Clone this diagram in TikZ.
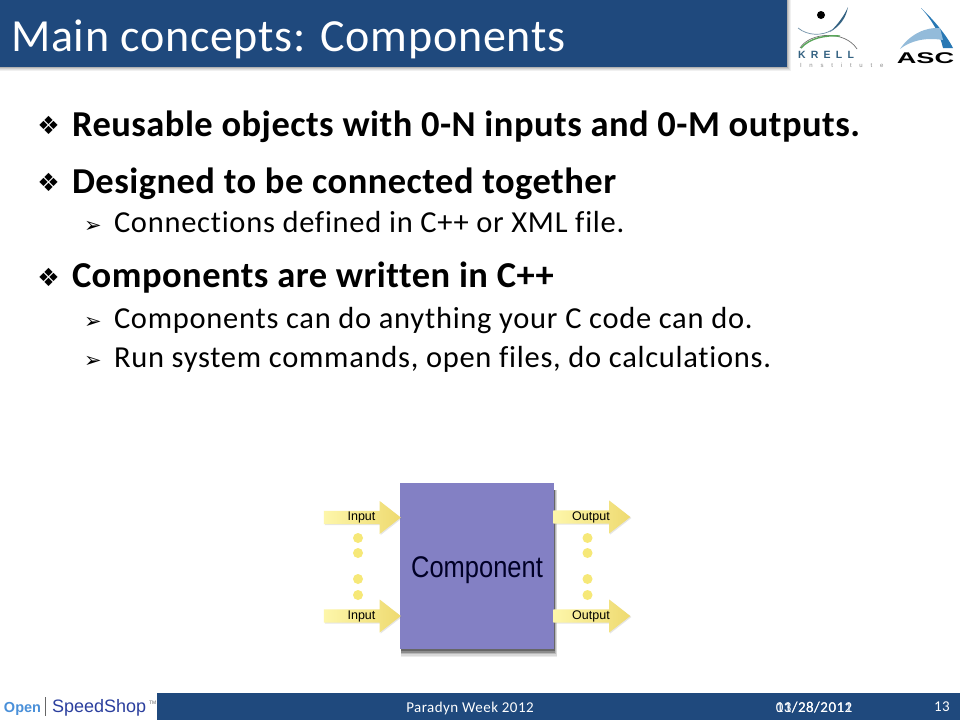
\documentclass[tikz,border=0pt]{standalone}
\usepackage{fontspec}
\usepackage{tikz}
\usetikzlibrary{positioning,shapes.arrows,shadows}
\setmainfont{Carlito}
\newfontfamily\titleFont[LetterSpace=1.6,Ligatures=NoCommon]{Carlito}
\newfontfamily\bigFont[LetterSpace=1.3,Ligatures=NoCommon]{Carlito}
\newfontfamily\smallFont[LetterSpace=2.4,Ligatures=NoCommon]{Carlito}
\newfontfamily\footFont[LetterSpace=3,Ligatures=NoCommon]{Carlito}
\newfontfamily\bulletFont{DejaVu Sans}
\newfontfamily\diagramFont{Liberation Sans}
\newfontfamily\krellFont[LetterSpace=50]{Liberation Sans}
\newfontfamily\instituteFont[LetterSpace=130]{Liberation Sans}
\definecolor{barColor}{RGB}{31,73,125}
\definecolor{boxColor}{RGB}{131,128,196}
\definecolor{arrowLight}{RGB}{253,246,170}
\definecolor{arrowDark}{RGB}{238,218,112}
\definecolor{dotColor}{RGB}{246,232,120}
\definecolor{krellColor}{RGB}{52,98,130}
\definecolor{ascColor}{RGB}{40,120,180}
\definecolor{openColor}{RGB}{74,144,217}
\definecolor{speedColor}{RGB}{43,63,158}
\tikzstyle{slide} = [x = 1pt, y = -1pt, inner sep = 0pt, outer sep = 0pt]
\tikzstyle{titleText} = [anchor=base west, text=white, font=\fontsize{46}{46}\titleFont]
\tikzstyle{bigText} = [anchor=base west, font=\fontsize{36.5}{36.5}\bigFont\bfseries]
\tikzstyle{smallText} = [anchor=base west, font=\fontsize{30.5}{30.5}\smallFont]
\tikzstyle{bigBullet} = [anchor=base, font=\fontsize{25}{25}\bulletFont]
\tikzstyle{smallBullet} = [anchor=base, font=\fontsize{21}{21}\bulletFont]
\tikzstyle{footText} = [anchor=base, text=white, font=\fontsize{15}{15}\footFont]
\tikzstyle{inArrow} = [single arrow, minimum height=77pt, minimum width=33pt, single arrow head extend=8.5pt, single arrow head indent=0pt, single arrow tip angle=76, left color=arrowLight, right color=arrowDark, drop shadow={opacity=.2, shadow xshift=1pt, shadow yshift=-1pt}, execute at begin node=\hspace*{7pt}, font=\fontsize{12.5}{12.5}\diagramFont]
\tikzstyle{dotStyle} = [circle, fill=dotColor, minimum size=10pt]
\newcommand{\bigLine}[4]{
  \node [bigBullet] (#1Bullet) at (48.5, #2) {❖};
  \node [bigText] (#1) at (72, #3) {#4};
}
\newcommand{\smallLine}[3]{
  \node [smallBullet] (#1Bullet) at (93, #2) {➢};
  \node [smallText] (#1) at (114, #2) {#3};
}
\begin{document}
\begin{tikzpicture}[slide]
    \useasboundingbox (0,0) rectangle (960,720);
    \fill [white] (0,0) rectangle (960,720);
    \foreach \grow/\shade in {4/6,3/12,2/20,1/30} {
      \fill [black!\shade] (0,0) rectangle (787 + \grow,67 + \grow);
    }
    \fill [barColor] (0,0) rectangle (787,67);
    \node [titleText] (title) at (11, 51) {Main concepts: Components};
    \bigLine{reusable}{134}{136}{Reusable objects with 0-N inputs and 0-M outputs.}
    \bigLine{designed}{191}{193}{Designed to be connected together}
    \smallLine{connections}{232}{Connections defined in C++ or XML file.}
    \bigLine{written}{286}{287}{Components are written in C++}
    \smallLine{anything}{328}{Components can do anything your C code can do.}
    \smallLine{commands}{367}{Run system commands, open files, do calculations.}
    \foreach \grow/\shade in {8/8,6.5/15,5/28,3.5/45,2/60} {
      \fill [black!\shade] (401,490) rectangle (554 + \grow*.4,649 + \grow);
    }
    \node [fill=boxColor, minimum width=154pt, minimum height=166pt, font=\fontsize{26}{26}\diagramFont, text=black!85!blue] (component) at (477, 566) {\smash{\raisebox{-11pt}{\scalebox{.98}[1.15]{Component}}}};
    \node [inArrow] (inputTop) at (358, 517.5) {Input};
    \node [inArrow] (inputBottom) at (358, 616) {Input};
    \node [inArrow] (outputTop) at (587.5, 517) {Output};
    \node [inArrow] (outputBottom) at (587.5, 616) {Output};
    \foreach \row in {538,553,579,595} {
      \node [dotStyle] (inDot\row) at (358, \row) {};
      \node [dotStyle] (outDot\row) at (587.5, \row) {};
    }
    \fill [black] (821,15) circle (4);
    \fill [krellColor] (848,7) .. controls (846,18) and (840,26) .. (830,32) .. controls (838,24) and (844,16) .. (848,7);
    \draw [krellColor!70, line width=.7] (798,28) .. controls (808,36) and (822,36) .. (832,30);
    \draw [black!55, line width=.7] (800,48) .. controls (810,32) and (845,30) .. (857,49);
    \draw [green!30!gray, line width=1.4] (801,48) .. controls (810,38) and (825,35) .. (840,36);
    \node [anchor=base west, text=krellColor, font=\fontsize{10.5}{10.5}\krellFont\bfseries] (krell) at (798, 58) {KRELL};
    \node [anchor=base west, text=black!45, font=\fontsize{6}{6}\instituteFont] (institute) at (800, 67) {Institute};
    \fill [ascColor] (921,8) .. controls (934,20) and (947,36) .. (953,48) -- (943,48) .. controls (940,34) and (932,20) .. (921,8);
    \fill [ascColor!50] (900,49) .. controls (910,34) and (926,27) .. (940,28) -- (943,40) .. controls (925,37) and (910,41) .. (900,49);
    \node [anchor=base, font=\fontsize{15.5}{15.5}\diagramFont\bfseries, xscale=1.75] (asc) at (925.5, 63.5) {ASC};
    \fill [barColor] (157,693) rectangle (960,720);
    \node [anchor=base west, text=openColor, font=\fontsize{14.5}{14.5}\diagramFont\bfseries] (open) at (4, 712) {Open};
    \draw [black!60] (45,697) -- (45,716);
    \node [anchor=base west, text=speedColor, font=\fontsize{18}{18}\diagramFont] (speedShop) at (52, 712) {SpeedShop};
    \node [anchor=base west, text=black!60, font=\fontsize{5}{5}\diagramFont] (trademark) at (149, 704) {TM};
    \node [footText] (week) at (470, 712) {Paradyn Week 2012};
    \node [footText] (dateOne) at (814, 712) {03/28/2012};
    \node [footText] (dateTwo) at (814, 712) {11/28/2011};
    \node [footText] (pageNumber) at (942, 711) {13};
\end{tikzpicture}
\end{document}
